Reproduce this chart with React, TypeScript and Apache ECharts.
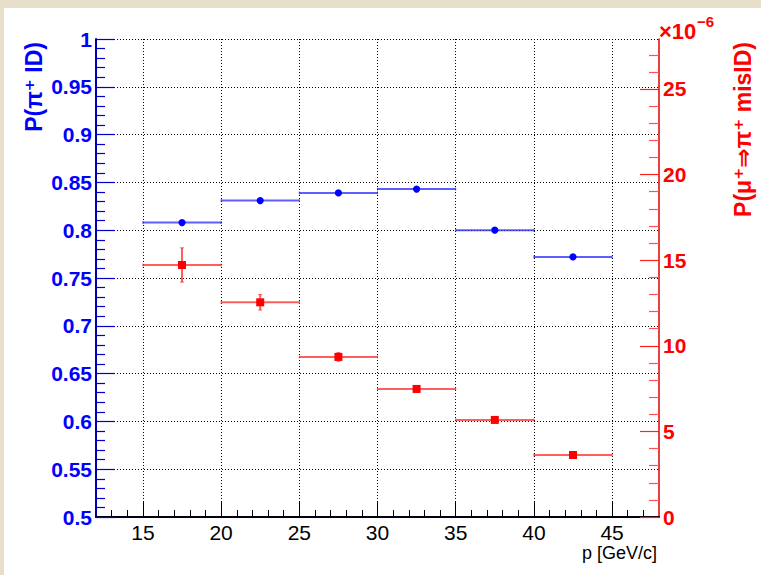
import React, { useEffect, useRef } from 'react';
import * as echarts from 'echarts';

// ---- data ----
const binCenters = [17.5, 22.5, 27.5, 32.5, 37.5, 42.5];
const binHalfWidths = [2.5, 2.5, 2.5, 2.5, 2.5, 2.5];
const pionIdEff = [0.808, 0.831, 0.839, 0.843, 0.8, 0.772];
const pionIdErr = [0.001, 0.001, 0.001, 0.001, 0.001, 0.001];
const muonMisId = [14.72, 12.54, 9.35, 7.48, 5.67, 3.62]; // x 1e-6
const muonMisIdErr = [1.0, 0.45, 0.25, 0.2, 0.15, 0.1];

const xMajorTicks = [15, 20, 25, 30, 35, 40, 45];
const xMinorTicks = [13, 14, 16, 17, 18, 19, 21, 22, 23, 24, 26, 27, 28, 29, 31, 32, 33, 34, 36, 37, 38, 39, 41, 42, 43, 44, 46, 47];
const rightMajorTicks = [0, 5, 10, 15, 20, 25];
const rightMinorTicks = [1, 2, 3, 4, 6, 7, 8, 9, 11, 12, 13, 14, 16, 17, 18, 19, 21, 22, 23, 24, 26, 27];

const leftTitle = 'P(π⁺ ID)';
const rightTitle = 'P(μ⁺⇒π⁺ misID)';
const xTitle = 'p [GeV/c]';

const FONT = '"Liberation Sans", Arial, Helvetica, "DejaVu Sans", sans-serif';
const BLUE = '#0000ff';
const RED = '#ff0000';

function makeRenderer(lineColor: string, markerColor: string, marker: 'circle' | 'square') {
  return (params: any, api: any) => {
    const x = api.value(0);
    const y = api.value(1);
    const ex = api.value(2);
    const ey = api.value(3);
    const c = api.coord([x, y]);
    const l = api.coord([x - ex, y]);
    const r = api.coord([x + ex, y]);
    const t = api.coord([x, y + ey]);
    const b = api.coord([x, y - ey]);
    const ls = { stroke: lineColor, lineWidth: 2 };
    const children: any[] = [
      { type: 'line', shape: { x1: l[0], y1: c[1], x2: r[0], y2: c[1] }, style: ls },
      { type: 'line', shape: { x1: l[0], y1: c[1] - 1.5, x2: l[0], y2: c[1] + 1.5 }, style: { stroke: lineColor, lineWidth: 1 } },
      { type: 'line', shape: { x1: r[0], y1: c[1] - 1.5, x2: r[0], y2: c[1] + 1.5 }, style: { stroke: lineColor, lineWidth: 1 } },
    ];
    if (Math.abs(b[1] - t[1]) > 4) {
      children.push(
        { type: 'line', shape: { x1: c[0], y1: t[1], x2: c[0], y2: b[1] }, style: ls },
        { type: 'line', shape: { x1: c[0] - 2, y1: t[1], x2: c[0] + 2, y2: t[1] }, style: { stroke: lineColor, lineWidth: 1 } },
        { type: 'line', shape: { x1: c[0] - 2, y1: b[1], x2: c[0] + 2, y2: b[1] }, style: { stroke: lineColor, lineWidth: 1 } }
      );
    }
    if (marker === 'circle') {
      children.push({ type: 'circle', shape: { cx: c[0], cy: c[1], r: 3.6 }, style: { fill: markerColor } });
    } else {
      children.push({ type: 'rect', shape: { x: c[0] - 4, y: c[1] - 4, width: 8, height: 8 }, style: { fill: markerColor } });
    }
    return { type: 'group', children };
  };
}

const gridLine = { show: true, lineStyle: { color: '#000', width: 1, type: [1, 2] as any } };

const option: any = {
  animation: false,
  backgroundColor: '#ffffff',
  grid: { left: 96, top: 39, width: 563, height: 478, containLabel: false, outerBoundsMode: 'none' },
  xAxis: [
    {
      type: 'value', position: 'bottom', min: 12, max: 48,
      axisLine: { show: true, onZero: false, lineStyle: { color: '#000010', width: 2 } },
      axisTick: { show: true, inside: true, length: 15, customValues: xMajorTicks, lineStyle: { color: '#000', width: 1 } },
      axisLabel: { show: true, customValues: xMajorTicks, margin: 5, color: '#000', fontSize: 21, fontFamily: FONT },
      splitLine: gridLine,
    },
    {
      type: 'value', position: 'bottom', min: 12, max: 48,
      axisLine: { show: false, onZero: false },
      axisTick: { show: true, inside: true, length: 7, customValues: xMinorTicks, lineStyle: { color: '#000', width: 1 } },
      axisLabel: { show: false },
      splitLine: { show: false },
    },
  ],
  yAxis: [
    {
      type: 'value', position: 'left', min: 0.5, max: 1, interval: 0.05,
      axisLine: { show: true, onZero: false, lineStyle: { color: '#0000b0', width: 2 } },
      axisTick: { show: true, inside: true, length: 19, lineStyle: { color: '#0000cc', width: 1.2 } },
      minorTick: { show: true, splitNumber: 5, length: 9, lineStyle: { color: '#0000cc', width: 1.2 } },
      axisLabel: {
        show: true, margin: 4, color: BLUE, fontSize: 21, fontWeight: 'bold', fontFamily: FONT,
        formatter: (v: number) => String(Math.round(v * 100) / 100),
      },
      splitLine: gridLine,
    },
    {
      type: 'value', position: 'right', min: 0, max: 27.92,
      axisLine: { show: true, onZero: false, lineStyle: { color: '#e00000', width: 1.5 } },
      axisTick: { show: true, inside: true, length: 19, customValues: rightMajorTicks, lineStyle: { color: '#ff2020', width: 1.2 } },
      axisLabel: {
        show: true, margin: 4, customValues: rightMajorTicks, color: RED, fontSize: 21, fontWeight: 'bold', fontFamily: FONT,
        formatter: (v: number) => String(Math.round(v)),
      },
      splitLine: { show: false },
    },
    {
      type: 'value', position: 'right', min: 0, max: 27.92,
      axisLine: { show: false, onZero: false },
      axisTick: { show: true, inside: true, length: 10, customValues: rightMinorTicks, lineStyle: { color: '#ff5050', width: 1.2 } },
      axisLabel: { show: false },
      splitLine: { show: false },
    },
  ],
  series: [
    {
      type: 'custom', name: 'pi ID', xAxisIndex: 0, yAxisIndex: 0, clip: false, z: 5,
      renderItem: makeRenderer('rgba(40,40,255,0.75)', BLUE, 'circle'),
      data: binCenters.map((x, i) => [x, pionIdEff[i], binHalfWidths[i], pionIdErr[i]]),
      encode: { x: 0, y: 1 },
    },
    {
      type: 'custom', name: 'mu misID', xAxisIndex: 0, yAxisIndex: 1, clip: false, z: 5,
      renderItem: makeRenderer('rgba(255,40,40,0.75)', RED, 'square'),
      data: binCenters.map((x, i) => [x, muonMisId[i], binHalfWidths[i], muonMisIdErr[i]]),
      encode: { x: 0, y: 1 },
    },
  ],
  graphic: [
    { type: 'rect', silent: true, z: 100, shape: { x: 0, y: 0, width: 761, height: 8 }, style: { fill: '#e8dfca' } },
    { type: 'rect', silent: true, z: 100, shape: { x: 0, y: 0, width: 4, height: 575 }, style: { fill: '#e8dfca' } },
    {
      type: 'text', z: 100, x: 34, y: 42, rotation: Math.PI / 2,
      style: { text: leftTitle, fill: BLUE, fontSize: 23, fontWeight: 'bold', fontFamily: FONT, align: 'right', verticalAlign: 'middle' },
    },
    {
      type: 'text', z: 100, x: 743, y: 42, rotation: Math.PI / 2,
      style: { text: rightTitle, fill: RED, fontSize: 23, fontWeight: 'bold', fontFamily: FONT, align: 'right', verticalAlign: 'middle' },
    },
    {
      type: 'text', z: 100, x: 657, y: 553,
      style: { text: xTitle, fill: '#000', fontSize: 18, fontFamily: FONT, align: 'right', verticalAlign: 'middle' },
    },
    {
      type: 'text', z: 100, x: 659, y: 31,
      style: { text: '×10', fill: RED, fontSize: 22, fontWeight: 'bold', fontFamily: FONT, align: 'left', verticalAlign: 'middle' },
    },
    {
      type: 'text', z: 100, x: 697, y: 21,
      style: { text: '−6', fill: RED, fontSize: 15, fontWeight: 'bold', fontFamily: FONT, align: 'left', verticalAlign: 'middle' },
    },
  ],
};

export default function App() {
  const ref = useRef<HTMLDivElement>(null);
  useEffect(() => {
    const chart = echarts.init(ref.current as HTMLDivElement, null, { renderer: 'svg' });
    chart.setOption(option);
    return () => chart.dispose();
  }, []);
  return <div ref={ref} style={{ position: 'absolute', left: 0, top: 0, width: 761, height: 575 }} />;
}
